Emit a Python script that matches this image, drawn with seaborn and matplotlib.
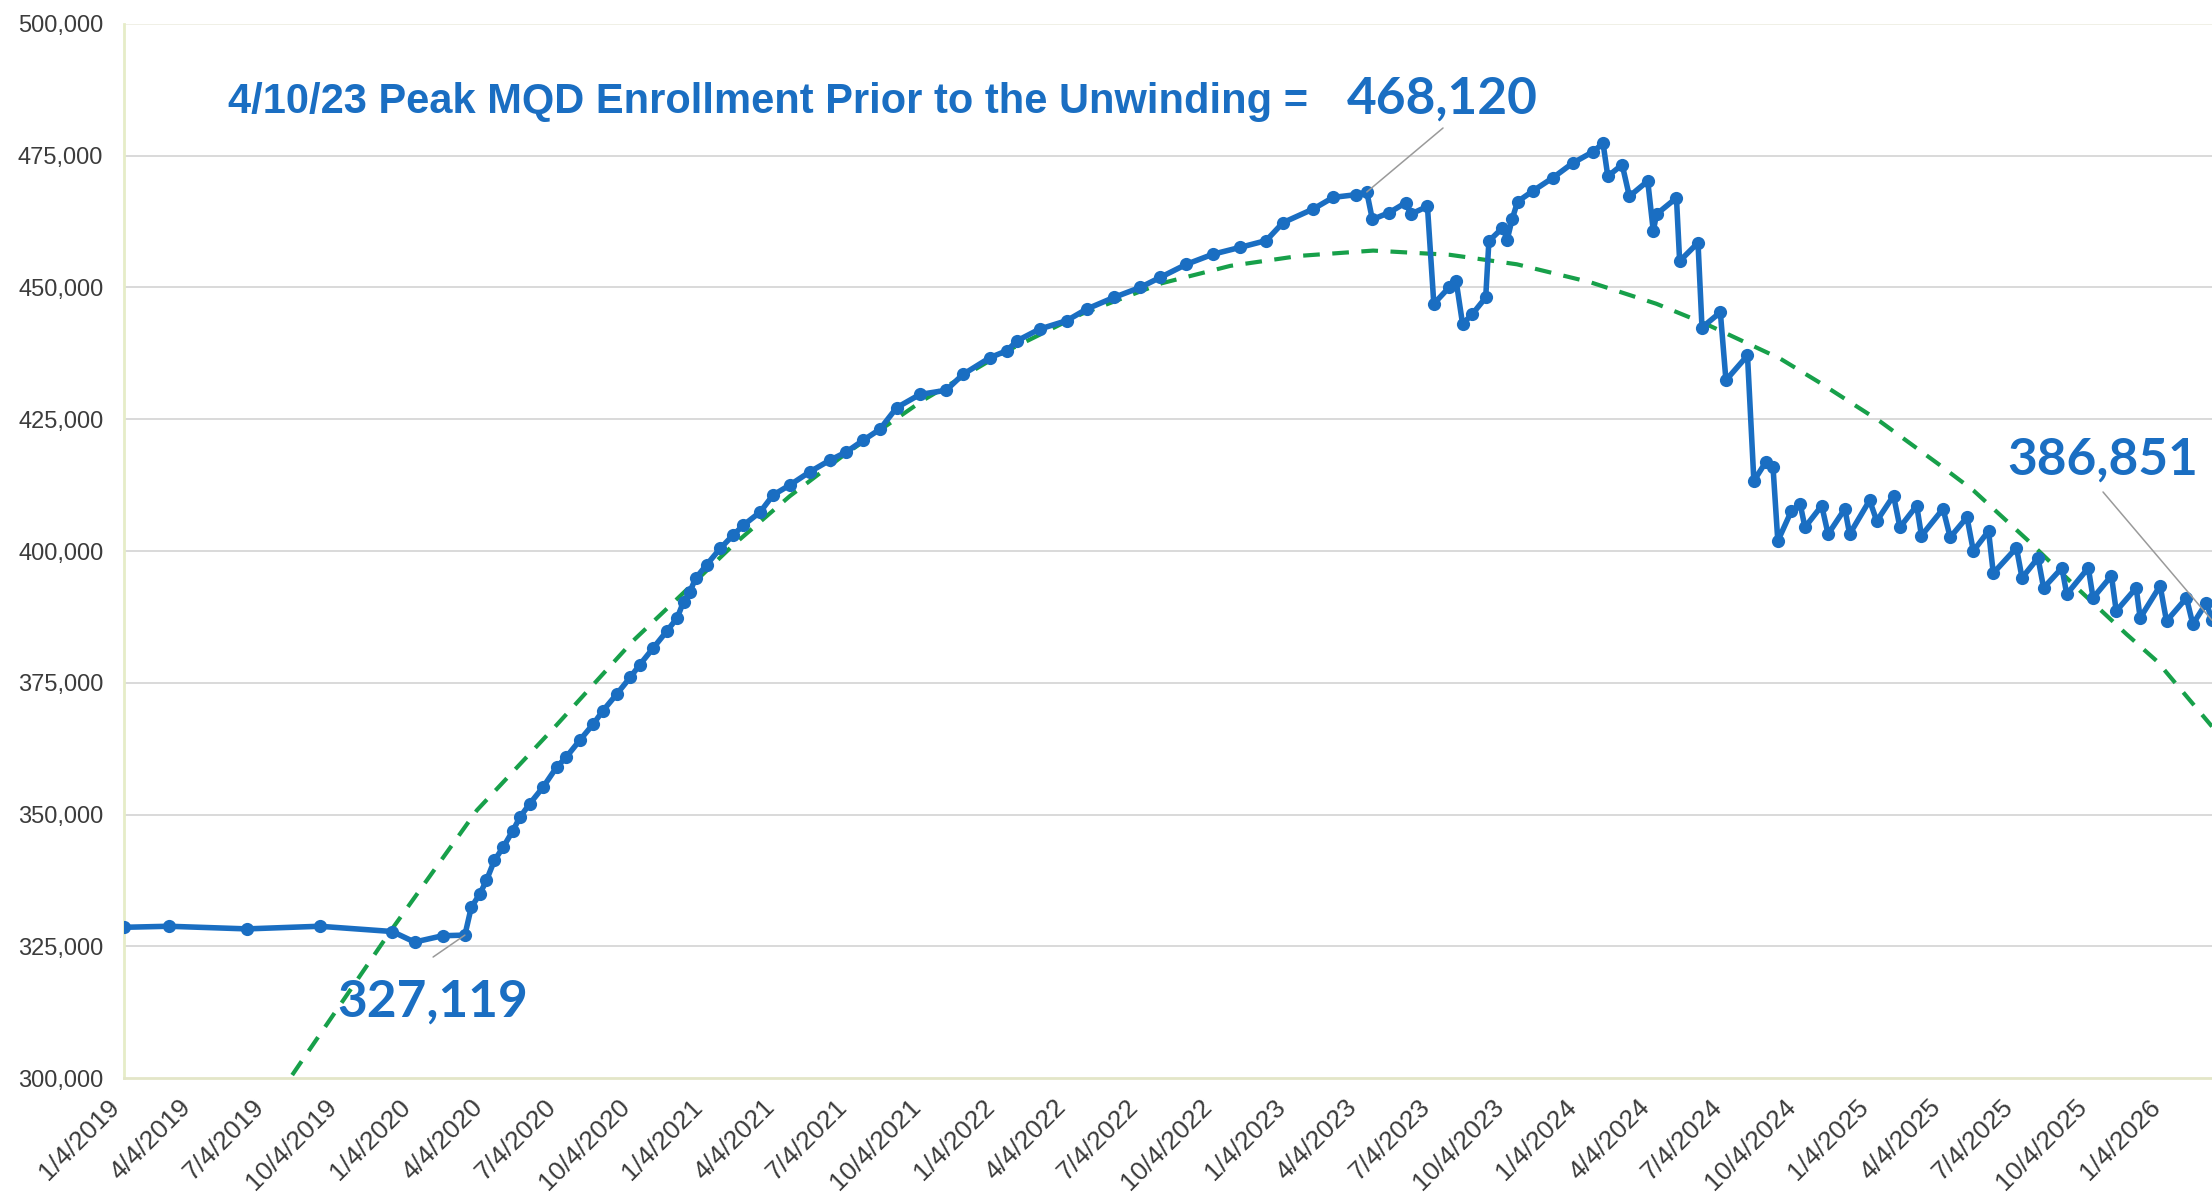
import pandas as pd
import matplotlib
matplotlib.use("Agg")
import matplotlib.pyplot as plt
import matplotlib.dates as mdates
from matplotlib.ticker import FuncFormatter
import seaborn as sns

# Enrolment counts (weekly report dates)
enroll_dates = [
    "2019-01-04", "2019-03-01", "2019-06-07", "2019-09-06", "2019-12-06", "2020-01-03",
    "2020-02-07", "2020-03-06", "2020-03-14", "2020-03-25", "2020-04-02", "2020-04-12",
    "2020-04-23", "2020-05-05", "2020-05-14", "2020-05-26", "2020-06-12", "2020-06-29",
    "2020-07-11", "2020-07-28", "2020-08-14", "2020-08-26", "2020-09-12", "2020-09-29",
    "2020-10-11", "2020-10-28", "2020-11-14", "2020-11-27", "2020-12-05", "2020-12-13",
    "2020-12-20", "2021-01-03", "2021-01-20", "2021-02-05", "2021-02-18", "2021-03-11",
    "2021-03-27", "2021-04-17", "2021-05-12", "2021-06-06", "2021-06-27", "2021-07-18",
    "2021-08-08", "2021-08-29", "2021-09-27", "2021-10-30", "2021-11-20", "2021-12-24",
    "2022-01-14", "2022-01-27", "2022-02-24", "2022-03-30", "2022-04-24", "2022-05-28",
    "2022-06-30", "2022-07-25", "2022-08-27", "2022-09-29", "2022-11-02", "2022-12-05",
    "2022-12-26", "2023-02-02", "2023-02-27", "2023-03-27", "2023-04-10", "2023-04-17",
    "2023-05-08", "2023-05-29", "2023-06-04", "2023-06-25", "2023-07-03", "2023-07-22",
    "2023-07-31", "2023-08-08", "2023-08-20", "2023-09-06", "2023-09-10", "2023-09-27",
    "2023-10-03", "2023-10-09", "2023-10-16", "2023-11-04", "2023-11-29", "2023-12-24",
    "2024-01-19", "2024-01-31", "2024-02-06", "2024-02-24", "2024-03-04", "2024-03-27",
    "2024-04-03", "2024-04-07", "2024-05-02", "2024-05-06", "2024-05-29", "2024-06-03",
    "2024-06-26", "2024-07-03", "2024-07-30", "2024-08-07", "2024-08-22", "2024-08-31",
    "2024-09-06", "2024-09-23", "2024-10-04", "2024-10-10", "2024-10-31", "2024-11-08",
    "2024-11-29", "2024-12-05", "2024-12-30", "2025-01-08", "2025-01-29", "2025-02-06",
    "2025-02-27", "2025-03-05", "2025-04-01", "2025-04-10", "2025-05-01", "2025-05-09",
    "2025-05-28", "2025-06-03", "2025-07-02", "2025-07-09", "2025-07-29", "2025-08-05",
    "2025-08-28", "2025-09-03", "2025-09-30", "2025-10-06", "2025-10-29", "2025-11-04",
    "2025-11-29", "2025-12-04", "2025-12-29", "2026-01-06", "2026-01-31", "2026-02-08",
    "2026-02-25", "2026-03-04",
]
enroll_values = [
    328600, 328800, 328300, 328800, 327800, 325800,
    327000, 327119, 332400, 335000, 337500, 341300,
    343800, 346900, 349500, 352000, 355200, 359000,
    360900, 364100, 367200, 369700, 372800, 376000,
    378400, 381600, 384800, 387300, 390400, 392300,
    394800, 397400, 400500, 403000, 404900, 407400,
    410600, 412500, 415000, 417200, 418800, 421000,
    423100, 427200, 429700, 430500, 433500, 436700,
    438000, 439900, 442100, 443700, 445900, 448100,
    450000, 451900, 454400, 456300, 457600, 458900,
    462300, 464900, 467100, 467600, 468120, 462900,
    464200, 466100, 463900, 465400, 446900, 450000,
    451200, 443100, 444900, 448100, 458800, 461300,
    459100, 462900, 466300, 468300, 470800, 473600,
    475800, 477400, 471100, 473300, 467300, 470200,
    460700, 463900, 467000, 455000, 458500, 442400,
    445300, 432400, 437100, 413300, 416900, 415900,
    401900, 407600, 408900, 404500, 408600, 403200,
    408000, 403200, 409600, 405700, 410500, 404500,
    408600, 402900, 408000, 402600, 406400, 400000,
    403800, 395800, 400600, 394900, 398700, 393000,
    396800, 391800, 396800, 391100, 395300, 388600,
    393000, 387300, 393400, 386700, 391100, 386100,
    390200, 386851,
]

# Trend line (dashed green)
trend_dates = [
    "2019-07-13", "2019-12-03", "2020-03-21", "2020-06-29", "2020-10-03",
    "2020-12-01", "2021-02-05", "2021-04-17", "2021-06-23", "2021-09-30", "2022-01-08",
    "2022-04-18", "2022-07-27", "2022-10-21", "2023-01-16", "2023-04-18", "2023-07-23",
    "2023-10-15", "2024-01-15", "2024-04-07", "2024-06-09", "2024-09-09", "2024-10-29",
    "2025-01-12", "2025-03-28", "2025-05-09", "2025-07-15", "2025-09-20", "2025-11-17",
    "2025-12-25", "2026-03-04",
]
trend_values = [
    296000, 327700, 350800, 367000, 383000,
    391500, 401100, 410400, 418100, 428500, 437500,
    445000, 450800, 454100, 456000, 457000, 456200,
    454400, 451000, 446900, 443000, 436500, 431900,
    424600, 416300, 411500, 402200, 392400, 384200,
    379100, 366700,
]

# labelled points: (date, value)
callouts = [("2023-04-10", 468120), ("2020-03-06", 327119), ("2026-03-04", 386851)]

blue = "#1A6EC2"
green = "#17A04A"

df = pd.DataFrame({"date": pd.to_datetime(enroll_dates), "enrollment": enroll_values})
trend = pd.DataFrame({"date": pd.to_datetime(trend_dates), "enrollment": trend_values})

sns.set_style("white")
plt.rcParams["font.family"] = ["Liberation Sans", "DejaVu Sans"]

fig = plt.figure(figsize=(22.12, 11.92), dpi=100)
ax = fig.add_axes([0.0561, 0.0956, 0.9439, 0.8843])

# horizontal gridlines
for v in [325000, 350000, 375000, 400000, 425000, 450000, 475000]:
    ax.axhline(v, color="#d9d9d9", lw=1.4, zorder=0)
ax.axhline(500000, color="#f0f0e6", lw=1.4, zorder=0)

sns.lineplot(data=trend, x="date", y="enrollment", ax=ax, color=green, lw=3.0,
             dashes=False, zorder=3)
ax.lines[-1].set_dashes([4, 3])

sns.lineplot(data=df, x="date", y="enrollment", ax=ax, color=blue, lw=4.0,
             marker="o", markersize=9.5, markeredgewidth=0, zorder=4)

ax.set_xlim(pd.Timestamp("2019-01-04"), pd.Timestamp("2026-03-04"))
ax.set_ylim(300000, 500000)
ax.set_xlabel("")
ax.set_ylabel("")

ax.yaxis.set_major_locator(plt.MultipleLocator(25000))
ax.yaxis.set_major_formatter(FuncFormatter(lambda v, p: f"{v:,.0f}"))
ax.xaxis.set_major_locator(mdates.MonthLocator(bymonth=[1, 4, 7, 10], bymonthday=4))
ax.xaxis.set_major_formatter(FuncFormatter(
    lambda v, p: f"{mdates.num2date(v).month}/{mdates.num2date(v).day}/{mdates.num2date(v).year}"))

ax.tick_params(axis="y", length=0, pad=15, labelsize=17, labelcolor="#3c3c3c")
ax.tick_params(axis="x", length=6, width=1, color="#c8c8c8", pad=6,
               labelsize=19, labelcolor="#3c3c3c")
plt.setp(ax.get_xticklabels(), rotation=45, ha="right", va="top")

for side in ["top", "right"]:
    ax.spines[side].set_visible(False)
ax.spines["left"].set_color("#e6ecc8")
ax.spines["left"].set_linewidth(2)
ax.spines["bottom"].set_color("#e3e6c8")
ax.spines["bottom"].set_linewidth(2)

# headline and callouts
ax.text(0.0498, 0.9156, "4/10/23 Peak MQD Enrollment Prior to the Unwinding =",
        transform=ax.transAxes, fontsize=30, fontweight="bold", color=blue,
        va="baseline", ha="left")

num_font = dict(family=["Lato", "DejaVu Sans"], fontsize=37, fontweight="bold", color=blue,
                va="baseline", ha="left")
label_pos = [(0.5857, 0.9146), (0.1020, 0.0579), (0.9018, 0.5721)]
leader_start = [(0.6317, 0.9013), (0.1480, 0.1148), (0.9478, 0.5560)]
for (d, v), (tx, ty), (lx, ly) in zip(callouts, label_pos, leader_start):
    ax.text(tx, ty, f"{v:,}", transform=ax.transAxes, **num_font)
    ax.annotate("", xy=(mdates.date2num(pd.Timestamp(d)), v), xycoords="data",
                xytext=(lx, ly), textcoords="axes fraction",
                arrowprops=dict(arrowstyle="-", color="#9a9a9a", lw=1.1,
                                shrinkA=0, shrinkB=0),
                annotation_clip=False, zorder=5)

fig.savefig("out.png", dpi=100, facecolor="white")
